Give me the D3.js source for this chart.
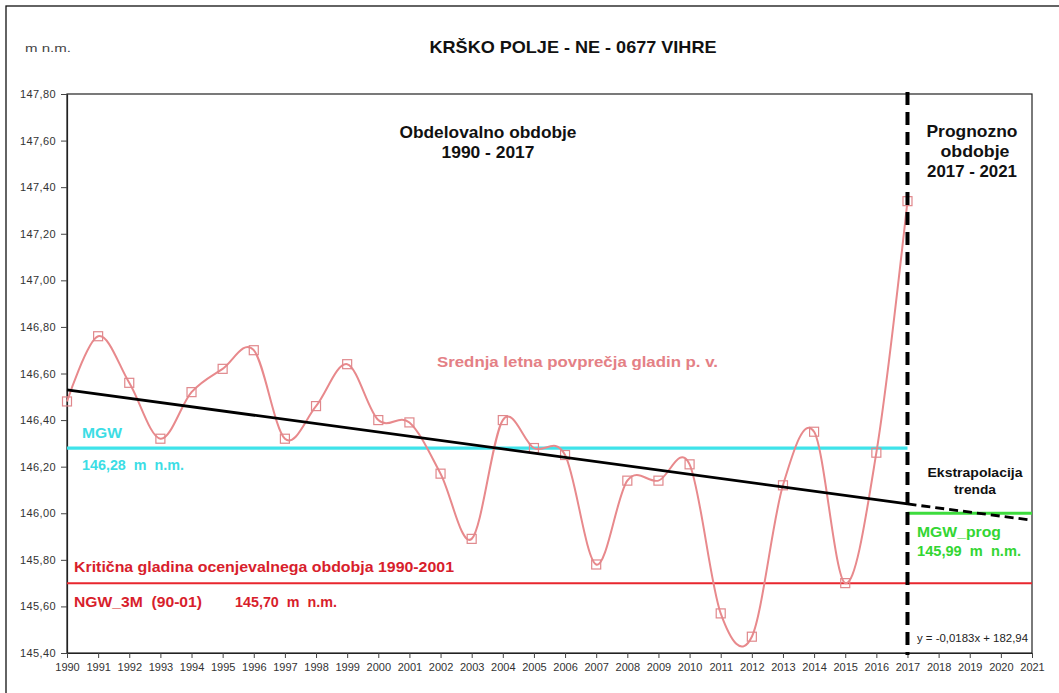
<!DOCTYPE html>
<html><head><meta charset="utf-8">
<script src="https://cdn.jsdelivr.net/npm/d3@7"></script>
<style>
body{margin:0;background:#fff;}
svg{display:block;font-family:"Liberation Sans",Arial,sans-serif;}
</style></head>
<body><svg id="c" width="1059" height="693"></svg>
<script>
const years = [1990,1991,1992,1993,1994,1995,1996,1997,1998,1999,2000,2001,2002,2003,2004,2005,2006,2007,2008,2009,2010,2011,2012,2013,2014,2015,2016,2017];
const levels = [146.48,146.76,146.56,146.32,146.52,146.62,146.70,146.32,146.46,146.64,146.40,146.39,146.17,145.89,146.40,146.28,146.25,145.78,146.14,146.14,146.21,145.57,145.47,146.12,146.35,145.70,146.26,147.34];
const trendSolid = [[1990,146.53],[2017,146.04]];
const trendDashed = [[2017,146.04],[2021,145.97]];
const mgw = {value:146.28, from:1990, to:2017};
const ngw = {value:145.70, from:1990, to:2021};
const mgwProg = {value:146.00, from:2017, to:2021};
const yTicks = [145.40,145.60,145.80,146.00,146.20,146.40,146.60,146.80,147.00,147.20,147.40,147.60,147.80];
const xTicks = d3.range(1990,2022);

const svg = d3.select("#c");
const L=67, R=1032, T=94, B=653;
const x = d3.scaleLinear().domain([1990,2021]).range([L,R]);
const y = d3.scaleLinear().domain([145.40,147.80]).range([B,T]);
const fmt = v => v.toFixed(2).replace(".", ",");

// outer frame
svg.append("rect").attr("x",6).attr("y",6).attr("width",1200).attr("height",1000)
  .attr("fill","none").attr("stroke","#111").attr("stroke-width",1.3);

// plot frame
svg.append("rect").attr("x",L).attr("y",T).attr("width",R-L).attr("height",B-T)
  .attr("fill","none").attr("stroke","#222").attr("stroke-width",1.2);

// axes
const yAx = svg.append("g").attr("transform",`translate(${L},0)`)
  .call(d3.axisLeft(y).tickValues(yTicks).tickFormat(fmt).tickSize(6).tickSizeOuter(0));
const xAx = svg.append("g").attr("transform",`translate(0,${B})`)
  .call(d3.axisBottom(x).tickValues(xTicks).tickFormat(d3.format("d")).tickSize(5).tickSizeOuter(0));
[yAx,xAx].forEach(g=>{
  g.select(".domain").attr("stroke","#222").attr("stroke-width",1.2);
  g.selectAll(".tick line").attr("stroke","#444");
  g.selectAll("text").attr("fill","#333").attr("font-size","11px").attr("font-family","Liberation Sans, Arial, sans-serif");
});
yAx.selectAll("text").attr("x",-11).attr("letter-spacing","0.4px");
xAx.selectAll("text").attr("y",10);

// horizontal reference lines
const hline = (o,color,w)=>svg.append("line").attr("x1",x(o.from)).attr("x2",x(o.to))
  .attr("y1",y(o.value)).attr("y2",y(o.value)).attr("stroke",color).attr("stroke-width",w);
hline(ngw,"#e8262e",2);
hline(mgw,"#3fe3ea",3.2);
hline(mgwProg,"#3ddc3d",3.2);

// data series (smoothed)
const pts = years.map((yr,i)=>[yr,levels[i]]);
svg.append("path").datum(pts)
  .attr("d", d3.line().x(d=>x(d[0])).y(d=>y(d[1])).curve(d3.curveCardinal.tension(0)))
  .attr("fill","none").attr("stroke","#e8898c").attr("stroke-width",2);
svg.selectAll("rect.mk").data(pts).enter().append("rect").attr("class","mk")
  .attr("x",d=>x(d[0])-4.5).attr("y",d=>y(d[1])-4.5).attr("width",9).attr("height",9)
  .attr("fill","none").attr("stroke","#e0888c").attr("stroke-width",1.2);

// trend
const tl = d3.line().x(d=>x(d[0])).y(d=>y(d[1]));
svg.append("path").datum(trendSolid).attr("d",tl).attr("fill","none").attr("stroke","#000").attr("stroke-width",2.8);
svg.append("path").datum(trendDashed).attr("d",tl).attr("fill","none").attr("stroke","#000").attr("stroke-width",2.8).attr("stroke-dasharray","9,5");

// vertical divider at 2017
svg.append("line").attr("x1",x(2017)).attr("x2",x(2017)).attr("y1",T-2).attr("y2",B+2)
  .attr("stroke","#000").attr("stroke-width",4).attr("stroke-dasharray","13,7");

// texts
function txt(s,xx,yy,opt={}){
  const t = svg.append("text").attr("x",xx).attr("y",yy).text(s)
    .attr("font-size",(opt.size||14)+"px").attr("font-weight",opt.bold===false?"normal":"bold")
    .attr("fill",opt.color||"#111").attr("text-anchor",opt.anchor||"start")
    .style("white-space","pre").attr("xml:space","preserve");
  if(opt.w) t.attr("textLength",opt.w).attr("lengthAdjust","spacingAndGlyphs");
  return t;
}
txt("m n.m.",25,52,{size:10.5,bold:false,color:"#444",w:46});
txt("KRŠKO POLJE - NE - 0677 VIHRE",573,53,{size:17,anchor:"middle",w:287});
txt("Obdelovalno obdobje",488,138,{size:17,anchor:"middle",w:177});
txt("1990 - 2017",488,158,{size:17,anchor:"middle",w:93});
txt("Prognozno",972,137,{size:17,anchor:"middle",w:91});
txt("obdobje",975,157,{size:17,anchor:"middle",w:69});
txt("2017 - 2021",972,177,{size:17,anchor:"middle",w:90});
txt("Srednja letna povprečja gladin p. v.",437,367,{size:15,color:"#e48085",w:281});
txt("MGW",82,438,{size:14.5,color:"#3cdde5",w:40});
txt("146,28  m  n.m.",82,470,{size:14.5,color:"#3cdde5",w:102});
txt("Kritična gladina ocenjevalnega obdobja 1990-2001",74,572,{size:15,color:"#d81e2c",w:380});
txt("NGW_3M  (90-01)",74,607,{size:15,color:"#d81e2c",w:128});
txt("145,70  m  n.m.",235,607,{size:15,color:"#d81e2c",w:102});
txt("Ekstrapolacija",975,477,{size:13.5,anchor:"middle",w:95});
txt("trenda",975,494,{size:13.5,anchor:"middle",w:42});
txt("MGW_prog",917,537,{size:15,color:"#33d633",w:84});
txt("145,99  m  n.m.",917,556,{size:15,color:"#33d633",w:104});
txt("y = -0,0183x + 182,94",917,642,{size:10.5,bold:false,color:"#222",w:111});
</script></body></html>
